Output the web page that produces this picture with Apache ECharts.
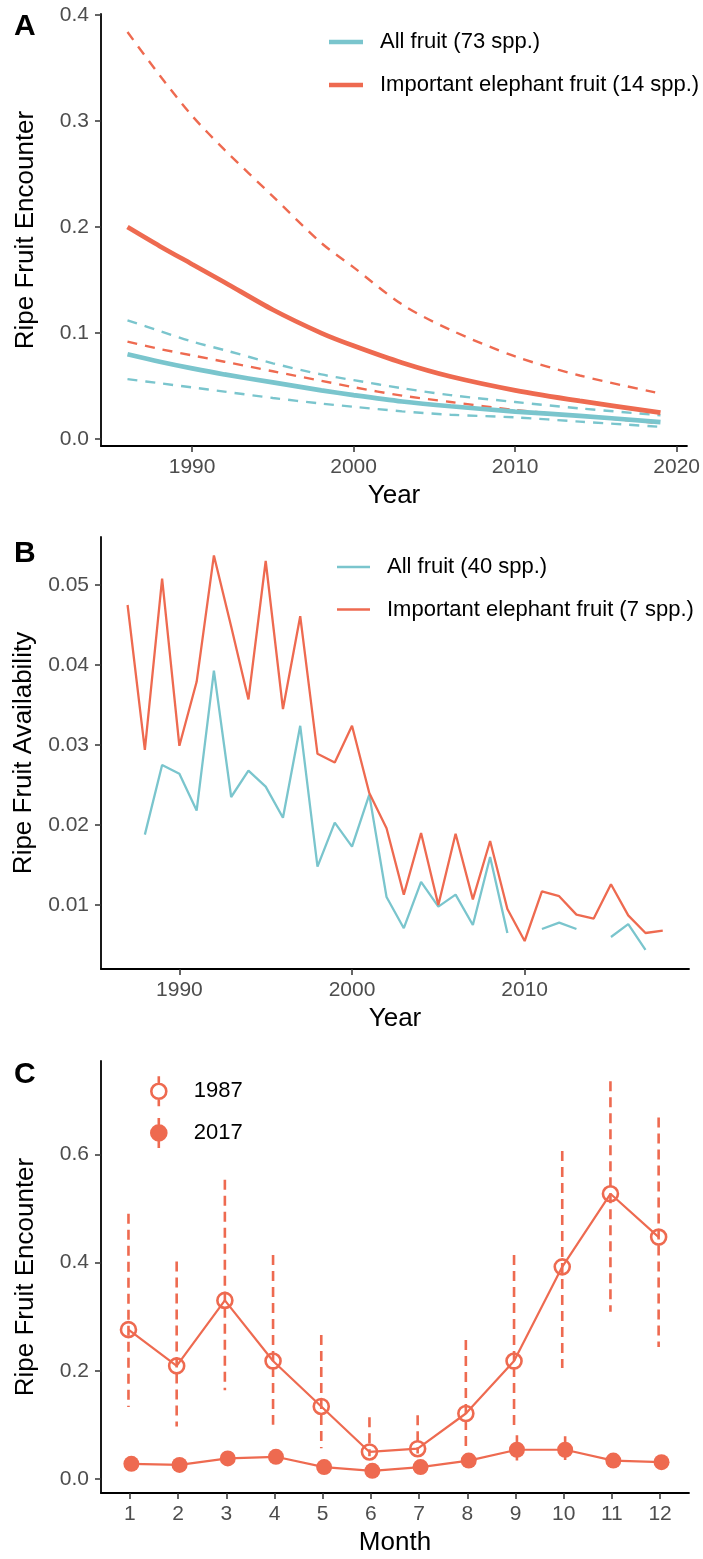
<!DOCTYPE html>
<html>
<head>
<meta charset="utf-8">
<script src="https://cdn.jsdelivr.net/npm/echarts@6/dist/echarts.min.js"></script>
<style>
  html, body { margin: 0; padding: 0; background: #fff; }
  #chart { width: 703px; height: 1559px; }
</style>
</head>
<body>
<div id="chart"></div>
<script>
const TEAL = '#7AC5CD';
const RED = '#EE6A50';
const FONT = 'Liberation Sans';

// Panel A - fitted ripe fruit encounter trend with 95% bands
const yearsA = [1986, 1988, 1990, 1992, 1995, 1998, 2000, 2003, 2006, 2010, 2014, 2019];
const allFitA = [0.080, 0.073, 0.0667, 0.061, 0.0535, 0.046, 0.0415, 0.0355, 0.031, 0.026, 0.022, 0.016];
const allLoA = [0.0566, 0.0527, 0.0488, 0.0448, 0.0388, 0.0335, 0.0305, 0.0262, 0.0230, 0.0205, 0.0165, 0.0116];
const allHiA = [0.112, 0.102, 0.092, 0.084, 0.0715, 0.061, 0.0556, 0.048, 0.0415, 0.035, 0.029, 0.0225];
const eleFitA = [0.200, 0.182, 0.165, 0.148, 0.122, 0.100, 0.088, 0.072, 0.059, 0.046, 0.036, 0.025];
const eleLoA = [0.092, 0.085, 0.079, 0.073, 0.064, 0.055, 0.049, 0.041, 0.035, 0.0275, 0.022, 0.015];
const eleHiA = [0.384, 0.343, 0.305, 0.273, 0.229, 0.185, 0.162, 0.127, 0.103, 0.078, 0.060, 0.043];
const ticksAx = [1990, 2000, 2010, 2020];
const ticksAy = [0, 0.1, 0.2, 0.3, 0.4];

// Panel B - yearly ripe fruit availability
const yearsB = [1987, 1988, 1989, 1990, 1991, 1992, 1993, 1994, 1995, 1996, 1997, 1998, 1999, 2000, 2001, 2002,
  2003, 2004, 2005, 2006, 2007, 2008, 2009, 2010, 2011, 2012, 2013, 2014, 2015, 2016, 2017, 2018];
const allB = [null, 0.0188, 0.0275, 0.0264, 0.0218, 0.0393, 0.0235, 0.0268, 0.0248, 0.0209, 0.0324, 0.0148, 0.0203,
  0.0173, 0.0238, 0.0110, 0.0071, 0.0129, 0.0098, 0.0113, 0.0075, 0.0160, 0.0065, null, 0.0070, 0.0078, 0.0070,
  null, 0.0060, 0.0076, 0.0044, null];
const eleB = [0.0475, 0.0294, 0.0508, 0.0299, 0.0379, 0.0537, 0.0448, 0.0357, 0.0530, 0.0345, 0.0461, 0.0289, 0.0278,
  0.0324, 0.0240, 0.0196, 0.0113, 0.0190, 0.0100, 0.0189, 0.0107, 0.0180, 0.0095, 0.0055, 0.0117, 0.0111, 0.0088,
  0.0083, 0.0126, 0.0087, 0.0065, 0.0068];
const ticksBx = [1990, 2000, 2010];
const ticksBy = [0.01, 0.02, 0.03, 0.04, 0.05];

// Panel C - monthly encounter, 1987 vs 2017
const months = [1, 2, 3, 4, 5, 6, 7, 8, 9, 10, 11, 12];
const enc1987 = [0.276, 0.209, 0.330, 0.218, 0.134, 0.050, 0.056, 0.121, 0.218, 0.392, 0.527, 0.447];
const lo1987 = [0.133, 0.097, 0.164, 0.100, 0.057, 0.042, 0.047, 0.050, 0.090, 0.205, 0.309, 0.244];
const hi1987 = [0.490, 0.402, 0.553, 0.414, 0.266, 0.114, 0.118, 0.257, 0.414, 0.606, 0.735, 0.668];
const enc2017 = [0.028, 0.026, 0.038, 0.041, 0.022, 0.015, 0.022, 0.034, 0.054, 0.054, 0.034, 0.031];
const lo2017 = [0.018, 0.017, 0.028, 0.031, 0.013, 0.008, 0.013, 0.024, 0.034, 0.035, 0.024, 0.021];
const hi2017 = [0.038, 0.036, 0.049, 0.052, 0.031, 0.024, 0.031, 0.044, 0.081, 0.079, 0.044, 0.041];
const ticksCy = [0, 0.2, 0.4, 0.6];
const dodge = 0.03;

const pairs = (xs, ys) => xs.map((x, i) => [x, ys[i]]);

function xAxisFor(grid, min, max, ticks, name) {
  return {
    type: 'value', gridIndex: grid, min: min, max: max,
    name: name, nameLocation: 'middle', nameGap: 37,
    nameTextStyle: { color: '#000', fontSize: 26, fontFamily: FONT },
    axisLine: { onZero: false, lineStyle: { color: '#000', width: 1.8 } },
    axisTick: { customValues: ticks, length: 6, lineStyle: { color: '#333', width: 1.5 } },
    axisLabel: { customValues: ticks, margin: 11, color: '#4D4D4D', fontSize: 21, fontFamily: FONT,
      formatter: v => String(v) },
    splitLine: { show: false }
  };
}

function yAxisFor(grid, min, max, ticks, name, digits) {
  return {
    type: 'value', gridIndex: grid, min: min, max: max,
    name: name, nameLocation: 'middle', nameGap: 62,
    nameTextStyle: { color: '#000', fontSize: 26, fontFamily: FONT },
    axisLine: { show: true, onZero: false, lineStyle: { color: '#000', width: 1.8 } },
    axisTick: { show: true, customValues: ticks, length: 6, lineStyle: { color: '#333', width: 1.5 } },
    axisLabel: { customValues: ticks, margin: 12, color: '#4D4D4D', fontSize: 21, fontFamily: FONT,
      formatter: v => Number(v).toFixed(digits) },
    splitLine: { show: false }
  };
}

function trend(name, xs, ys, color, width, dashed) {
  return {
    type: 'line', name: name, xAxisIndex: 0, yAxisIndex: 0,
    data: pairs(xs, ys), smooth: 0.3,
    symbol: 'none', showSymbol: false, silent: true,
    itemStyle: { color: color },
    lineStyle: { color: color, width: width, type: dashed ? [10, 8] : 'solid' },
    z: dashed ? 2 : 3
  };
}

function errorBars(name, xs, lo, hi, z) {
  return {
    type: 'custom', name: name, xAxisIndex: 2, yAxisIndex: 2, z: z,
    data: xs.map((x, i) => [x, lo[i], hi[i]]),
    renderItem: (params, api) => {
      const a = api.coord([api.value(0), api.value(1)]);
      const b = api.coord([api.value(0), api.value(2)]);
      return {
        type: 'line',
        shape: { x1: b[0], y1: b[1], x2: a[0], y2: a[1] },
        style: { stroke: RED, lineWidth: 2.6, lineDash: [10, 6] }
      };
    }
  };
}

const legendText = { color: '#000', fontSize: 22, fontFamily: FONT, padding: [0, 0, 0, 12] };
const letterStyle = { color: '#000', fontSize: 30, fontWeight: 'bold', fontFamily: FONT };

const option = {
  animation: false,
  backgroundColor: '#fff',
  title: [
    { text: 'A', left: 14, top: 12, padding: 0, textStyle: letterStyle },
    { text: 'B', left: 14, top: 539, padding: 0, textStyle: letterStyle },
    { text: 'C', left: 14, top: 1060, padding: 0, textStyle: letterStyle }
  ],
  grid: [
    { left: 101, top: 14, width: 588, height: 432 },
    { left: 101, top: 537, width: 588, height: 432 },
    { left: 101, top: 1061, width: 588, height: 432 }
  ],
  xAxis: [
    xAxisFor(0, 1984.36, 2020.64, ticksAx, 'Year'),
    xAxisFor(1, 1985.46, 2019.52, ticksBx, 'Year'),
    xAxisFor(2, 0.4, 12.6, months, 'Month')
  ],
  yAxis: [
    yAxisFor(0, -0.0065, 0.401, ticksAy, 'Ripe Fruit Encounter', 1),
    yAxisFor(1, 0.002, 0.056, ticksBy, 'Ripe Fruit Availability', 2),
    yAxisFor(2, -0.0259, 0.7724, ticksCy, 'Ripe Fruit Encounter', 1)
  ],
  legend: [
    {
      orient: 'vertical', left: 329, top: 31, padding: 0, itemGap: 21,
      itemWidth: 34, itemHeight: 4.7, icon: 'rect', selectedMode: false,
      textStyle: legendText,
      data: ['All fruit (73 spp.)', 'Important elephant fruit (14 spp.)']
    },
    {
      orient: 'vertical', left: 337, top: 556, padding: 0, itemGap: 20.5,
      itemWidth: 33, itemHeight: 2.6, icon: 'rect', selectedMode: false,
      textStyle: legendText,
      data: ['All fruit (40 spp.)', 'Important elephant fruit (7 spp.)']
    },
    {
      orient: 'vertical', left: 150, top: 1075, padding: 0, itemGap: 9,
      itemWidth: 16, itemHeight: 30, selectedMode: false,
      icon: 'path://M8,0L8,7.5M8,22.5L8,30M8,7.5A7.5,7.5,0,1,1,8,22.5A7.5,7.5,0,1,1,8,7.5Z',
      textStyle: { color: '#000', fontSize: 22, fontFamily: FONT, padding: [0, 0, 0, 22] },
      data: [
        { name: '1987', itemStyle: { color: '#fff', borderColor: RED, borderWidth: 2.6 } },
        { name: '2017', itemStyle: { color: RED, borderColor: RED, borderWidth: 2.6 } }
      ]
    }
  ],
  series: [
    trend('All fruit (73 spp.)', yearsA, allFitA, TEAL, 4.7, false),
    trend('All fruit lower', yearsA, allLoA, TEAL, 2.4, true),
    trend('All fruit upper', yearsA, allHiA, TEAL, 2.4, true),
    trend('Important elephant fruit (14 spp.)', yearsA, eleFitA, RED, 4.7, false),
    trend('Elephant fruit lower', yearsA, eleLoA, RED, 2.4, true),
    trend('Elephant fruit upper', yearsA, eleHiA, RED, 2.4, true),
    {
      type: 'line', name: 'All fruit (40 spp.)', xAxisIndex: 1, yAxisIndex: 1,
      data: pairs(yearsB, allB), connectNulls: false, symbol: 'none', showSymbol: false,
      itemStyle: { color: TEAL }, lineStyle: { color: TEAL, width: 2.3 }, z: 2
    },
    {
      type: 'line', name: 'Important elephant fruit (7 spp.)', xAxisIndex: 1, yAxisIndex: 1,
      data: pairs(yearsB, eleB), symbol: 'none', showSymbol: false,
      itemStyle: { color: RED }, lineStyle: { color: RED, width: 2.3 }, z: 3
    },
    errorBars('1987 range', months.map(m => m - dodge), lo1987, hi1987, 1),
    errorBars('2017 range', months.map(m => m + dodge), lo2017, hi2017, 1),
    {
      type: 'line', name: '1987', xAxisIndex: 2, yAxisIndex: 2,
      data: pairs(months.map(m => m - dodge), enc1987),
      symbol: 'circle', symbolSize: 15, showSymbol: true,
      itemStyle: { color: 'rgba(0,0,0,0)', borderColor: RED, borderWidth: 2.6 },
      lineStyle: { color: RED, width: 2.2 }, z: 3
    },
    {
      type: 'line', name: '2017', xAxisIndex: 2, yAxisIndex: 2,
      data: pairs(months.map(m => m + dodge), enc2017),
      symbol: 'circle', symbolSize: 16, showSymbol: true,
      itemStyle: { color: RED, borderColor: RED, borderWidth: 0 },
      lineStyle: { color: RED, width: 2.2 }, z: 3
    }
  ]
};

const myChart = echarts.init(document.getElementById('chart'), null, { renderer: 'canvas' });
myChart.setOption(option);
</script>
</body>
</html>
